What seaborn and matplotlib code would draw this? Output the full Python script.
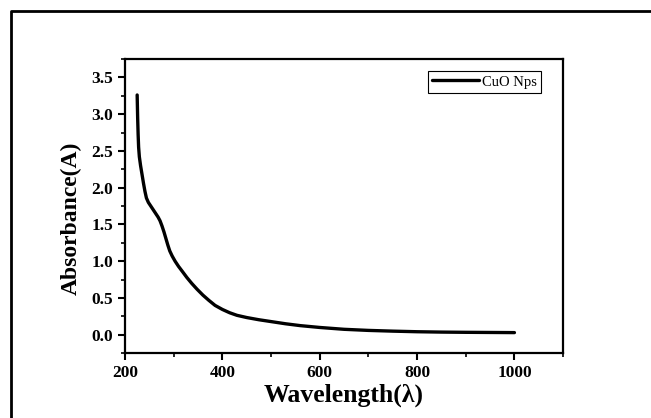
# UV-Vis absorbance spectrum of CuO nanoparticles
import numpy as np
import pandas as pd
import matplotlib
matplotlib.use('Agg')
import matplotlib.pyplot as plt
import seaborn as sns
from matplotlib.ticker import MultipleLocator

# Values
wavelength = [225, 226, 227, 228, 229.5, 232, 235, 238, 241, 244, 248, 253, 258,
              263, 268, 272, 276, 280, 284, 288, 292, 297, 303, 310, 318, 327,
              337, 348, 360, 372, 385, 400, 415, 430, 450, 475, 500, 530, 560,
              600, 650, 700, 750, 800, 850, 900, 950, 1000]
absorbance = [3.26, 2.95, 2.72, 2.55, 2.42, 2.30, 2.18, 2.06, 1.95, 1.86, 1.80, 1.75, 1.70,
              1.65, 1.60, 1.55, 1.48, 1.40, 1.31, 1.22, 1.14, 1.07, 1.00, 0.93, 0.86, 0.78,
              0.70, 0.62, 0.54, 0.47, 0.40, 0.345, 0.30, 0.265, 0.235, 0.205, 0.18, 0.15, 0.125,
              0.10, 0.075, 0.06, 0.05, 0.042, 0.037, 0.034, 0.032, 0.03]
series_label = 'CuO Nps'

df = pd.DataFrame({'Wavelength': wavelength, 'Absorbance': absorbance})

sns.set_style('ticks')
plt.rcParams['font.family'] = ['Liberation Serif', 'DejaVu Serif']
plt.rcParams['text.color'] = 'black'
plt.rcParams['axes.labelcolor'] = 'black'

fig = plt.figure(figsize=(6.51, 4.18), dpi=100)
ax = fig.add_axes([0.192, 0.155, 0.673, 0.704])

sns.lineplot(data=df, x='Wavelength', y='Absorbance', ax=ax, color='black',
             linewidth=2.4, label=series_label, estimator=None, sort=False)

ax.set_xlim(200, 1100)
ax.set_ylim(-0.25, 3.75)
ax.xaxis.set_minor_locator(MultipleLocator(100))
ax.yaxis.set_minor_locator(MultipleLocator(0.25))
ax.set_xticks([200, 400, 600, 800, 1000])
ax.set_yticks([0.0, 0.5, 1.0, 1.5, 2.0, 2.5, 3.0, 3.5])
ax.set_yticklabels([f'{v:.1f}' for v in [0.0, 0.5, 1.0, 1.5, 2.0, 2.5, 3.0, 3.5]])

for side in ax.spines.values():
    side.set_linewidth(1.6)
    side.set_color('black')
ax.tick_params(which='major', direction='out', length=5, width=1.5,
               labelsize=12.5, colors='black')
ax.tick_params(which='minor', direction='out', length=3, width=1.2, colors='black')
for lbl in ax.get_xticklabels() + ax.get_yticklabels():
    lbl.set_fontweight('bold')

ax.set_xlabel('Wavelength(λ)', fontsize=18.5, fontweight='bold', labelpad=2)
ax.set_ylabel('Absorbance(A)', fontsize=17, fontweight='bold')
ax.yaxis.set_label_coords(-0.098, 0.46)

leg = ax.legend(loc='upper right', bbox_to_anchor=(0.95, 0.959), borderaxespad=0,
                fancybox=False, framealpha=1, edgecolor='black', fontsize=10.5,
                handlelength=3.2, handletextpad=0.2, borderpad=0.3)
leg.get_frame().set_linewidth(0.8)

# outer frame (left and top edges only, like the source image)
fig.add_artist(plt.Line2D([11 / 651, 11 / 651, 1.0], [0.0, 1 - 11 / 418, 1 - 11 / 418],
                          transform=fig.transFigure, color='black', linewidth=2))

fig.savefig('out.png', dpi=100)
